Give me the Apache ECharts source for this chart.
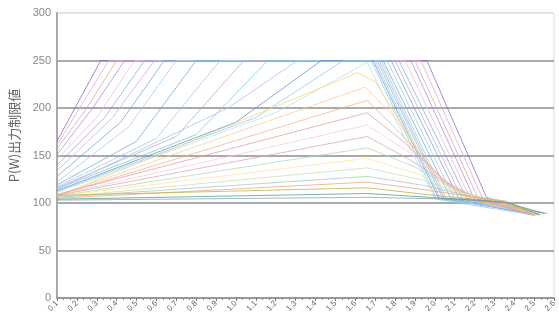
<!DOCTYPE html>
<html>
<head>
<meta charset="utf-8">
<script src="https://cdn.jsdelivr.net/npm/echarts@6/dist/echarts.min.js"></script>
<style>
  html, body { margin: 0; padding: 0; background: #fff; }
  #chart { width: 559px; height: 320px; }
</style>
</head>
<body>
<div id="chart"></div>
<script>
// x tick labels (one per step)
const xLabels = ['0.1','0.2','0.3','0.4','0.5','0.6','0.7','0.8','0.9','1.0','1.1','1.2','1.3',
  '1.4','1.5','1.6','1.7','1.8','1.9','2.0','2.1','2.2','2.3','2.4','2.5','2.6']

// steep ramps that hit the 250 cap early
const fastRamps = [
  [[0,165],[2.2,250],[18.6,250],[21.6,106],[24.2,88]],
  [[0,161],[2.6,250],[18.3,250],[21.4,105],[24.3,87]],
  [[0,157],[1.5,200],[3.0,250],[18.0,250],[21.2,104],[24.2,89]],
  [[0,151],[1.8,200],[3.4,250],[17.8,250],[21.0,104],[24.1,88]],
  [[0,146],[2.0,190],[3.9,250],[17.5,250],[20.8,104],[24.3,90]],
  [[0,140],[2.4,190],[4.4,250],[17.2,250],[20.6,105],[24.0,89]],
  [[0,134],[2.8,190],[4.9,250],[17.0,250],[20.4,104],[24.2,88]],
  [[0,128],[3.2,185],[5.4,250],[16.8,250],[20.2,105],[24.6,89]],
  [[0,122],[3.6,180],[6.0,250],[16.6,250],[20.0,104],[24.1,87]]
]

// slower, bending ramps that still reach the cap
const midRamps = [
  [[0,119],[4,165],[7.0,250],[16.4,250],[19.8,105],[24.2,88]],
  [[0,117],[5,168],[8.2,250],[16.3,250],[19.6,104],[24.0,89]],
  [[0,116],[6,170],[9.4,250],[16.2,250],[19.5,104],[24.3,88]],
  [[0,115],[7,172],[10.6,250],[16.1,250],[19.4,105],[24.1,90]],
  [[0,114],[8.6,200],[12.1,250],[16.0,250],[19.3,104],[24.7,89]],
  [[0,113],[9,185],[13.3,250],[15.9,250],[19.2,105],[24.2,88]],
  [[0,112],[10,190],[14.4,250],[15.8,250],[19.1,104],[24.0,87]],
  [[0,111],[11,195],[15.6,248],[19.0,105],[24.3,89]]
]

// gentle ramps that peak before the drop
const slowRamps = [
  [[0,107],[15.1,237],[16.0,228],[18.6,140],[20.6,104],[24.2,88]],
  [[0,108],[15.5,222],[17.0,190],[19.0,130],[20.8,104],[24.1,89]],
  [[0,108],[15.6,208],[17.2,175],[19.4,125],[21.0,103],[24.3,88]],
  [[0,109],[15.6,195],[17.4,165],[19.6,122],[21.2,104],[24.0,87]],
  [[0,108],[15.6,182],[17.6,155],[19.8,118],[21.4,104],[24.2,89]],
  [[0,108],[15.6,170],[17.8,145],[20.0,115],[21.6,103],[24.4,90]],
  [[0,107],[15.6,158],[18.0,138],[20.2,112],[21.8,104],[24.2,88]],
  [[0,107],[15.6,147],[18.2,130],[20.4,110],[22.0,103],[24.1,88]],
  [[0,106],[15.6,137],[18.4,124],[20.6,108],[22.2,103],[24.3,89]],
  [[0,106],[15.6,128],[18.6,118],[21.0,106],[22.4,102],[24.2,88]],
  [[0,105],[15.6,122],[18.8,113],[21.4,105],[22.6,102],[24.0,87]]
]

// nearly flat lines along 100
const flatLines = [
  [[0,108],[15.6,116],[19.0,108],[22.0,102],[24.3,88]],
  [[0,104],[15.6,110],[19.5,105],[22.5,101],[24.5,89]],
  [[0,103],[15.6,106],[20.0,104],[22.8,100],[24.2,88]]
]

const palette = [
  '#7b68c8','#e8a0c0','#d9a0a8','#9c8fd8','#f0b8c8','#8aa8e0','#c8a8e8','#70a0d8','#a8c8f0',
  '#6fa8dc','#9fc5e8','#b4a7d6','#76c8d8','#a4c2f4','#5b8fd0','#8ec8f0','#b8e0f0',
  '#f6d860','#f9cb9c','#f4b183','#ea9999','#f8c8d8','#d5a6bd','#b6d7a8','#ffe599','#c8e0b0','#a2c4c9','#f0a070',
  '#b8b040','#4a9a8a','#7f9fb0'
]

const allLines = [...fastRamps, ...midRamps, ...slowRamps, ...flatLines]

const chart = echarts.init(document.getElementById('chart'))
chart.setOption({
  animation: false,
  grid: {
    left: 55, right: 4, top: 13, bottom: 22,
    show: true, borderColor: '#ddd', borderWidth: 1
  },
  xAxis: {
    type: 'value',
    min: 0, max: 25, interval: 1,
    axisLine: { lineStyle: { color: '#999', width: 2 } },
    axisTick: { show: true, length: 3, lineStyle: { color: '#777' } },
    minorTick: { show: true, splitNumber: 3, length: 2, lineStyle: { color: '#888' } },
    splitLine: { show: false },
    axisLabel: {
      formatter: (v) => xLabels[Math.round(v)] || '',
      rotate: 45, fontSize: 8, color: '#666', margin: 4
    }
  },
  yAxis: {
    type: 'value',
    min: 0, max: 300, interval: 50,
    name: 'P(W)出力制限値',
    nameLocation: 'middle',
    nameGap: 36,
    nameTextStyle: { fontSize: 13, color: '#666', fontFamily: 'Noto Sans CJK JP', padding: [0, 0, 0, 40] },
    axisLine: { show: true, lineStyle: { color: '#aaa', width: 2 } },
    axisTick: { show: false },
    axisLabel: { fontSize: 11, color: '#888', margin: 6, fontFamily: 'Liberation Sans' },
    splitLine: {
      lineStyle: {
        color: ['#aaa', '#aaa', '#aaa', '#aaa', '#aaa', '#aaa', '#e4e4e4'],
        width: 2
      }
    }
  },
  series: allLines.map((pts, k) => ({
    type: 'line',
    data: pts,
    symbol: 'none',
    silent: true,
    lineStyle: { width: 1, color: palette[k % palette.length], opacity: 0.75 }
  }))
})
</script>
</body>
</html>
